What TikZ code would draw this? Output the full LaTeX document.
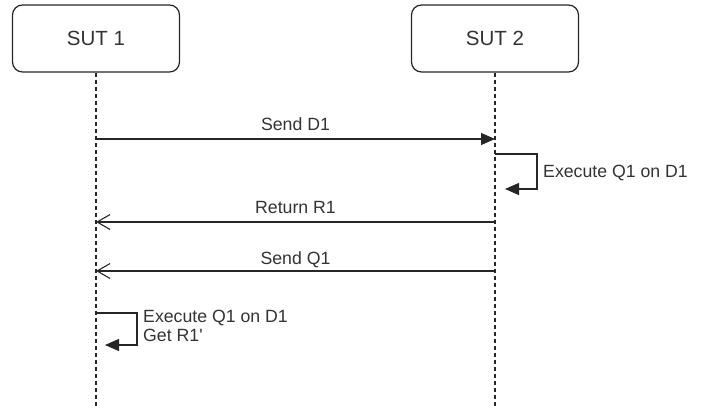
\documentclass[tikz,border=0pt]{standalone}
\usepackage{fontspec}
\setmainfont{Liberation Sans}
\usetikzlibrary{arrows.meta}
\begin{document}
\begin{tikzpicture}[x=1pt,y=-1pt,
  actor/.style={draw=black!85, line width=1.2pt, rounded corners=10pt, minimum width=167pt, minimum height=67pt, font=\fontsize{20.5}{24}\selectfont, text=black!80, inner sep=0pt},
  lifeline/.style={draw=black!85, line width=1.1pt, dash pattern=on 4pt off 3pt},
  msg/.style={draw=black!85, line width=1.3pt},
  filltip/.style={-{Triangle[length=14pt,width=12pt]}},
  opentip/.style={-{Straight Barb[length=13pt,width=15pt,line width=1.1pt]}},
  lbl/.style={font=\fontsize{17.7}{19}\selectfont, text=black!80, inner sep=0pt}
]
\useasboundingbox (0,0) rectangle (710,412);
\node[actor] (sut1) at (96,38.5) {SUT 1};
\node[actor] (sut2) at (495,38.5) {SUT 2};
\coordinate (end1) at (96,407);
\coordinate (end2) at (495,407);
\draw[lifeline] (sut1.south) -- (end1);
\draw[lifeline] (sut2.south) -- (end2);
% messages
\coordinate (a1) at (96,139);  \coordinate (a2) at (495,139);
\coordinate (b1) at (495,154); \coordinate (b2) at (505,189);
\coordinate (c1) at (96,222);  \coordinate (c2) at (495,222);
\coordinate (d1) at (96,271);  \coordinate (d2) at (495,271);
\coordinate (e1) at (96,313);  \coordinate (e2) at (105,345);
\draw[msg,filltip] (a1) -- (a2);
\node[lbl,anchor=base] (la) at (295.5,131) {Send D1};
\draw[msg,filltip] (b1) -- (537,154) |- (b2);
\node[lbl,anchor=base west] (lb) at (543,177) {Execute Q1 on D1};
\draw[msg,opentip] (c2) -- (c1);
\node[lbl,anchor=base] (lc) at (295.5,213) {Return R1};
\draw[msg,opentip] (d2) -- (d1);
\node[lbl,anchor=base] (ld) at (295.5,264) {Send Q1};
\draw[msg,filltip] (e1) -- (137,313) |- (e2);
\node[lbl,anchor=base west,align=left] (le) at (143,341.7) {Execute Q1 on D1\\Get R1\textquotesingle};
\end{tikzpicture}
\end{document}
